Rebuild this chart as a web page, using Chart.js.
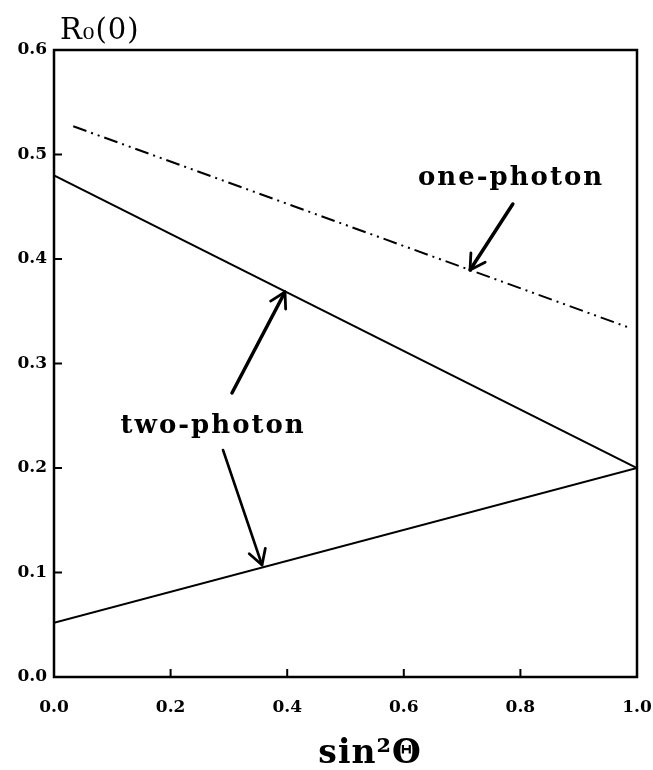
<!DOCTYPE html>
<html>
<head>
<meta charset="utf-8">
<script src="https://cdn.jsdelivr.net/npm/chart.js@4.4.1/dist/chart.umd.min.js"></script>
<style>
  html, body { margin: 0; padding: 0; background: #fff; }
  #wrap { width: 653px; height: 770px; }
</style>
</head>
<body>
<div id="wrap"><canvas id="c" width="653" height="770"></canvas></div>
<script>
// sin^2(theta) end points of the straight-line curves
const sinSq = [0, 1];
// two-photon anisotropy branches
const twoPhotonUpper = [0.48, 0.20];
const twoPhotonLower = [0.052, 0.20];
// one-photon curve (drawn slightly inset from the frame)
const onePhotonX = [0.033, 0.988];
const onePhoton = [0.527, 0.334];
// axis ticks
const xTicks = [0, 0.2, 0.4, 0.6, 0.8, 1.0];
const yTicks = [0, 0.1, 0.2, 0.3, 0.4, 0.5, 0.6];

const pts = (xs, ys) => xs.map((x, i) => ({ x: x, y: ys[i] }));

const SERIF = '"DejaVu Serif", "Liberation Serif", serif';

// labels and arrows placed in data coordinates
const notes = [
  { text: 'one-photon', x: 0.784, y: 0.471 },
  { text: 'two-photon', x: 0.273, y: 0.2335 }
];
const arrows = [
  { from: [0.787, 0.4526], to: [0.7136, 0.3895], w: 3.5 },
  { from: [0.3053, 0.2718], to: [0.3962, 0.3684], w: 3.5 },
  { from: [0.2899, 0.2172], to: [0.3568, 0.1072], w: 2.6 }
];

const framePlugin = {
  id: 'frame',
  afterDatasetsDraw(chart) {
    const ctx = chart.ctx;
    const a = chart.chartArea;
    const xs = chart.scales.x, ys = chart.scales.y;
    ctx.save();
    ctx.strokeStyle = '#000';
    ctx.fillStyle = '#000';
    ctx.lineCap = 'butt';

    // frame
    ctx.lineWidth = 2.5;
    ctx.strokeRect(a.left, a.top, a.right - a.left, a.bottom - a.top);

    // inward tick marks
    ctx.lineWidth = 2;
    xTicks.forEach(v => {
      if (v <= 0 || v >= 1) return;
      const px = xs.getPixelForValue(v);
      ctx.beginPath(); ctx.moveTo(px, a.bottom); ctx.lineTo(px, a.bottom - 8); ctx.stroke();
    });
    yTicks.forEach(v => {
      if (v <= 0 || v >= 0.6) return;
      const py = ys.getPixelForValue(v);
      ctx.beginPath(); ctx.moveTo(a.left, py); ctx.lineTo(a.left + 8, py); ctx.stroke();
    });

    // curve labels
    ctx.font = 'bold 26px ' + SERIF;
    ctx.letterSpacing = '2px';
    ctx.textAlign = 'center';
    ctx.textBaseline = 'alphabetic';
    notes.forEach(n => {
      ctx.fillText(n.text, xs.getPixelForValue(n.x), ys.getPixelForValue(n.y));
    });

    // arrows with open heads
    ctx.lineCap = 'round';
    ctx.lineJoin = 'round';
    arrows.forEach(ar => {
      const x0 = xs.getPixelForValue(ar.from[0]), y0 = ys.getPixelForValue(ar.from[1]);
      const x1 = xs.getPixelForValue(ar.to[0]), y1 = ys.getPixelForValue(ar.to[1]);
      ctx.lineWidth = ar.w;
      ctx.beginPath(); ctx.moveTo(x0, y0); ctx.lineTo(x1, y1); ctx.stroke();
      const ang = Math.atan2(y1 - y0, x1 - x0);
      const hl = 17, spread = Math.PI / 6;
      ctx.lineWidth = 2.8;
      ctx.beginPath();
      ctx.moveTo(x1 - hl * Math.cos(ang - spread), y1 - hl * Math.sin(ang - spread));
      ctx.lineTo(x1, y1);
      ctx.lineTo(x1 - hl * Math.cos(ang + spread), y1 - hl * Math.sin(ang + spread));
      ctx.stroke();
    });

    // axis titles
    ctx.letterSpacing = '1px';
    ctx.textAlign = 'left';
    ctx.font = '29px ' + SERIF;
    ctx.fillText('R\u2080(0)', 60, 39);

    ctx.letterSpacing = '1px';
    ctx.textAlign = 'center';
    ctx.font = 'bold 33px ' + SERIF;
    ctx.fillText('sin\u00B2\u0398', xs.getPixelForValue(0.542), 763);
    ctx.restore();
  }
};

new Chart(document.getElementById('c'), {
  type: 'scatter',
  data: {
    datasets: [
      {
        label: 'two-photon (upper)',
        data: pts(sinSq, twoPhotonUpper),
        showLine: true, borderColor: '#000', borderWidth: 2,
        pointRadius: 0, fill: false
      },
      {
        label: 'two-photon (lower)',
        data: pts(sinSq, twoPhotonLower),
        showLine: true, borderColor: '#000', borderWidth: 2,
        pointRadius: 0, fill: false
      },
      {
        label: 'one-photon',
        data: pts(onePhotonX, onePhoton),
        showLine: true, borderColor: '#000', borderWidth: 2,
        borderDash: [14, 5, 2, 5, 2, 5],
        pointRadius: 0, fill: false
      }
    ]
  },
  options: {
    responsive: false,
    animation: false,
    devicePixelRatio: 1,
    layout: { padding: { left: 0, top: 50, right: 0, bottom: 0 } },
    plugins: { legend: { display: false }, tooltip: { enabled: false } },
    scales: {
      x: {
        type: 'linear', min: 0, max: 1,
        afterBuildTicks(s) { s.ticks = xTicks.map(v => ({ value: v })); },
        afterFit(s) { s.height = 93; s.paddingRight = 16; },
        grid: { display: false, drawTicks: false },
        border: { display: false },
        ticks: {
          padding: 20, color: '#000', maxRotation: 0,
          font: { family: SERIF, size: 17, weight: 'bold' },
          callback: v => Number(v).toFixed(1)
        }
      },
      y: {
        type: 'linear', min: 0, max: 0.6,
        afterBuildTicks(s) { s.ticks = yTicks.map(v => ({ value: v })); },
        afterFit(s) { s.width = 54; },
        grid: { display: false, drawTicks: false },
        border: { display: false },
        ticks: {
          padding: 7, color: '#000',
          font: { family: SERIF, size: 17, weight: 'bold' },
          callback: v => Number(v).toFixed(1)
        }
      }
    }
  },
  plugins: [framePlugin]
});
</script>
</body>
</html>
